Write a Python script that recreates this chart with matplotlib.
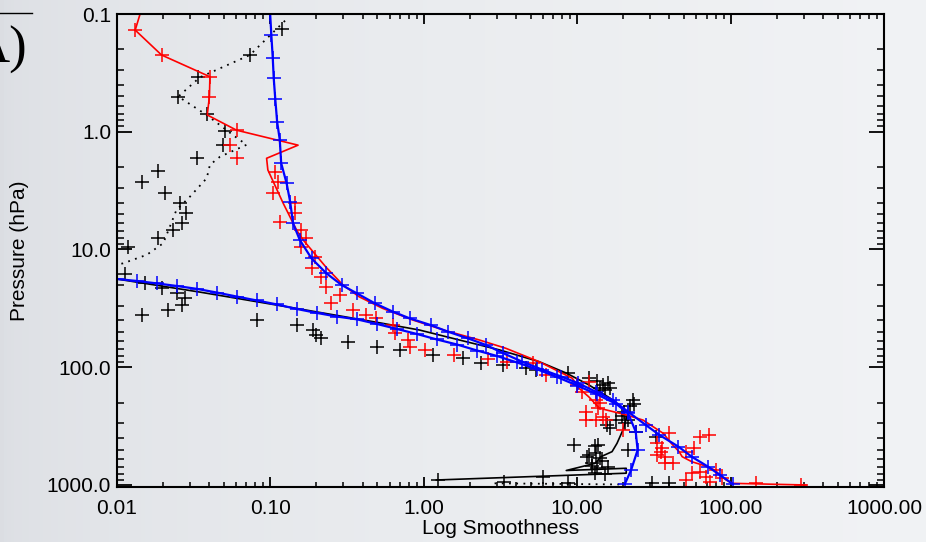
import numpy as np
import matplotlib
matplotlib.use("Agg")
import matplotlib.pyplot as plt
from matplotlib.lines import Line2D
from matplotlib.ticker import FixedLocator, FixedFormatter, LogLocator, NullFormatter

plt.rcParams['font.family'] = ['Liberation Sans', 'DejaVu Sans']

# ---- data ----
# blue profile A (upper, bending right)
blueA_x = [0.100, 0.1018, 0.104, 0.1055, 0.108, 0.111, 0.1155, 0.118, 0.128, 0.135, 0.141,
           0.156, 0.186, 0.232, 0.292, 0.366, 0.48, 0.63, 0.81, 1.11, 1.44, 1.94, 2.55,
           3.3, 4.4, 5.95, 7.9, 10.2, 13.2, 17.1, 21.5, 28.0, 34.4, 45.8, 55.8, 71.5, 85.3, 103]
blueA_p = [0.1, 0.151, 0.238, 0.351, 0.53, 0.82, 1.17, 1.85, 2.74, 3.93, 6.0,
           8.3, 11.9, 15.9, 20.0, 23.5, 28.6, 33.7, 38.4, 43.8, 49.9, 56.8, 64.7,
           76, 89.8, 105, 120, 137, 161, 190, 239, 309, 376, 473, 575, 700, 823, 977]

# blue profile B (lower, from the left edge, bending down)
blueB_x = [0.0100, 0.0135, 0.0182, 0.0246, 0.0333, 0.0449, 0.0606, 0.0819, 0.111, 0.149,
           0.202, 0.272, 0.368, 0.496, 0.670, 0.905, 1.22, 1.65, 2.23, 3.00, 4.06, 5.48,
           7.40, 10.0, 13.5, 18.0, 21.5, 24.1, 24.8, 22.5, 20.5]
blueB_p = [17.8, 18.5, 19.4, 20.4, 21.6, 23.2, 25.1, 27.1, 29.3, 32.0,
           34.6, 37.1, 39.2, 42.9, 47.3, 52.2, 58.1, 64.1, 72.1, 80.2, 91.1, 104,
           121, 143, 170, 205, 246, 352, 505, 746, 977]

# black solid profile
black_x = [0.0100, 0.0348, 0.156, 0.52, 0.94, 1.71, 3.13, 5.67, 8.5, 11.9, 16.3, 21.5,
           19.9, 18.2, 16.9, 14.3, 13.1, 8.5, 20.9, 20.9, 1.21]
black_p = [17.8, 23.0, 32.0, 42.0, 48.3, 58.7, 71.3, 89.8, 112, 141, 182, 244,
           341, 443, 521, 575, 655, 753, 721, 794, 907]

# black dotted profile (two visible pieces)
dot_x = [0.125, 0.0738, 0.0348, 0.0252, 0.0386, 0.0574, 0.0702, 0.0471, 0.0405, 0.0386,
         0.030, 0.0245, 0.0222, 0.0201, 0.0157, 0.0110, 0.0100, np.nan, 2.9, 20.0]
dot_p = [0.114, 0.223, 0.345, 0.503, 0.721, 1.07, 1.29, 1.63, 1.91, 2.48,
         3.56, 4.62, 6.4, 8.85, 11.1, 13.1, 13.5, np.nan, 968, 990]

# red profile
red_x = [0.0142, 0.0132, 0.0196, 0.0405, 0.0402, 0.0389, 0.0604, 0.152, 0.0948, 0.0966,
         0.1216, 0.1486, 0.164, 0.232, 0.298, 0.38, 0.54, 0.85, 1.40, 2.31, 3.43, 5.67,
         9.3, 10.3, 11.9, 14.0, 20.9, 26.9, 36.5, 41.1, 46.2, 48.4, 56.0, 66.0, 78.9,
         85.3, 93.7, 103, 310]
red_p = [0.1, 0.137, 0.223, 0.341, 0.504, 0.72, 0.97, 1.30, 1.68, 2.11,
         4.05, 6.83, 8.3, 14.2, 20.0, 25.2, 31.6, 39.7, 49.0, 58.7, 69.0, 89.8,
         124, 151, 178, 223, 254, 281, 365, 443, 521, 575, 635, 678, 746,
         823, 907, 968, 1000]

# black + samples
kpt_x = [0.1186, 0.0738, 0.034, 0.0252, 0.0389, 0.0507, 0.0494, 0.0335, 0.0187, 0.0146,
         0.0206, 0.0258, 0.0283, 0.0265, 0.0233, 0.0187, 0.0119, 0.0113, 0.0153, 0.0196,
         0.0246, 0.0279, 0.0265, 0.0146, 0.0217, 0.0815, 0.149, 0.190, 0.200, 0.216,
         0.322, 0.50, 0.70, 1.15, 1.81, 2.38, 3.3, 4.65, 5.4, 8.7,
         11.9, 13.5, 16.0, 14.0, 16.5, 14.8, 15.2, 23.1, 23.5, 22.0,
         20.2, 19.5, 20.5, 17.9, 21.4, 15.6, 16.5, 24.1, 32.5, 9.6,
         13.7, 13.0, 13.2, 21.4, 12.0, 11.6, 14.0, 14.5, 12.6, 12.5,
         15.8, 13.5, 13.0, 15.2, 6.0, 3.35, 8.7, 1.24, 31.0, 39.5]
kpt_p = [0.135, 0.223, 0.345, 0.503, 0.71, 0.98, 1.29, 1.68, 2.14, 2.69,
         3.34, 4.05, 4.93, 5.91, 6.83, 8.04, 9.46, 16.3, 19.4, 21.4,
         23.6, 26.0, 29.6, 36.0, 32.7, 39.7, 43.8, 48.3, 53.2, 56.7,
         60.7, 67.6, 71.3, 78.7, 84.0, 92.7, 95.7, 102, 105, 113,
         124, 130, 135, 150, 150, 141, 156, 190, 205, 215,
         238, 260, 300, 282, 282, 309, 330, 352, 390, 457,
         457, 470, 537, 505, 560, 575, 590, 620, 655, 690,
         700, 720, 794, 805, 847, 937, 968, 907, 968, 968]

# red + samples
rpt_x = [0.0132, 0.0196, 0.0405, 0.0402, 0.0604, 0.0547, 0.0604, 0.1075, 0.112, 0.104,
         0.145, 0.145, 0.116, 0.160, 0.172, 0.160, 0.1955, 0.186, 0.216, 0.232,
         0.284, 0.251, 0.345, 0.42, 0.49, 0.63, 0.65, 0.79, 0.81, 1.02,
         1.58, 2.62, 3.5, 5.2, 6.3, 10.0, 11.9, 10.8, 13.2, 14.0,
         13.7, 11.4, 11.4, 14.8, 13.2, 15.5, 19.9, 39.9, 33.0, 33.0,
         37.6, 36.0, 35.0, 37.3, 41.9, 51.6, 57.9, 62.8, 72.5, 56.0,
         63.3, 69.5, 80.7, 88.6, 73.6, 147, 51.6, 290]
rpt_p = [0.137, 0.223, 0.341, 0.504, 0.97, 1.29, 1.68, 2.18, 2.66, 3.34,
         4.05, 4.93, 5.81, 6.83, 8.04, 9.46, 11.5, 14.5, 17.0, 20.7,
         24.3, 28.6, 32.7, 36.0, 38.4, 43.8, 51.5, 58.7, 66.8, 71.3,
         78.7, 85.7, 89.8, 92.7, 116, 141, 133, 161, 190, 202,
         223, 239, 281, 263, 282, 282, 341, 365, 443, 556,
         575, 488, 521, 655, 655, 521, 488, 390, 376, 794,
         776, 847, 746, 880, 937, 968, 907, 1000]

x_ticks = [0.01, 0.1, 1, 10, 100, 1000]
x_labels = ['0.01', '0.10', '1.00', '10.00', '100.00', '1000.00']
y_ticks = [0.1, 1, 10, 100, 1000]
y_labels = ['0.1', '1.0', '10.0', '100.0', '1000.0']

# ---- figure ----
fig = plt.figure(figsize=(9.26, 5.42), dpi=100)

# soft grey backdrop
bg = fig.add_axes([0, 0, 1, 1], zorder=-10)
grad = np.linspace(0, 1, 256)
img = np.zeros((2, 256, 3))
for i, (a, b) in enumerate([(0.86, 0.945), (0.87, 0.952), (0.89, 0.96)]):
    img[:, :, i] = a + (b - a) * np.sqrt(grad)
bg.imshow(img, aspect='auto', extent=[0, 1, 0, 1])
bg.axis('off')

ax = fig.add_axes([116.7 / 926, 1 - 487 / 542, (884 - 116.7) / 926, (487 - 14) / 542])
ax.patch.set_alpha(0)

ax.plot(dot_x, dot_p, color='k', ls=(0, (1, 3)), lw=1.3)
ax.plot(black_x, black_p, color='k', lw=1.2)
ax.plot(kpt_x, kpt_p, ls='none', marker='+', ms=10, mew=1.1, color='k')
ax.plot(red_x, red_p, color='#ff0000', lw=1.2)
ax.plot(rpt_x, rpt_p, ls='none', marker='+', ms=10, mew=1.1, color='#ff0000')
ax.plot(blueA_x, blueA_p, color='#0000ff', lw=1.6, marker='+', ms=10, mew=1.1)
ax.plot(blueB_x, blueB_p, color='#0000ff', lw=1.6, marker='+', ms=10, mew=1.1)

ax.set_xscale('log')
ax.set_yscale('log')
ax.set_xlim(0.01, 1000)
ax.set_ylim(1040, 0.1)

ax.xaxis.set_major_locator(FixedLocator(x_ticks))
ax.xaxis.set_major_formatter(FixedFormatter(x_labels))
ax.yaxis.set_major_locator(FixedLocator(y_ticks))
ax.yaxis.set_major_formatter(FixedFormatter(y_labels))
ax.xaxis.set_minor_locator(LogLocator(base=10, subs=np.arange(2, 10)))
ax.yaxis.set_minor_locator(LogLocator(base=10, subs=np.arange(2, 10)))
ax.xaxis.set_minor_formatter(NullFormatter())
ax.yaxis.set_minor_formatter(NullFormatter())

ax.tick_params(which='both', direction='in', top=True, right=True, labelsize=15, colors='k')
ax.tick_params(axis='x', which='major', length=7, width=1.3, pad=9)
ax.tick_params(axis='x', which='minor', length=3.5, width=1.1)
ax.tick_params(axis='y', which='major', length=11, width=1.3, pad=4)
ax.tick_params(axis='y', which='minor', length=5, width=1.1)
for s in ax.spines.values():
    s.set_linewidth(1.5)

ax.set_xlabel('Log Smoothness', fontsize=15)
ax.set_ylabel('Pressure (hPa)', fontsize=15)
ax.xaxis.set_label_coords(0.5, -0.068)
ax.yaxis.set_label_coords(-0.114, 0.5)

# panel tag, cut at the left edge
fig.text(27 / 926, 1 - 50 / 542, 'A)', ha='right', va='center', fontsize=38,
         family='Liberation Serif')
fig.add_artist(Line2D([0, 32 / 926], [1 - 13 / 542] * 2, color='k', lw=1.0))

fig.savefig('out.png', dpi=100)
